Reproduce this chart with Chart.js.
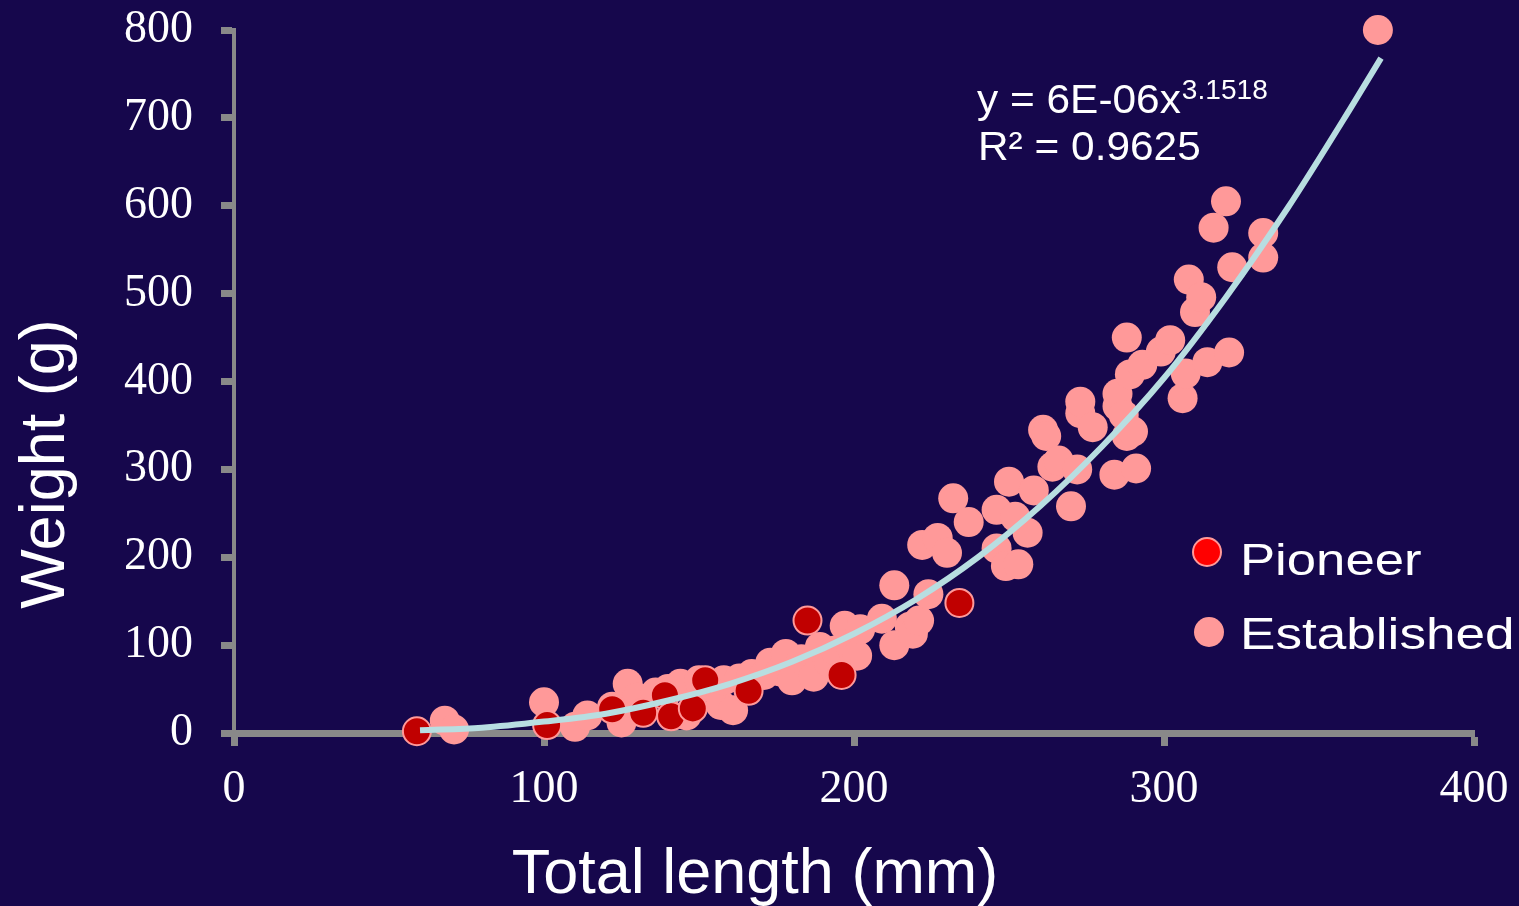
<!DOCTYPE html>
<html>
<head>
<meta charset="utf-8">
<script src="https://cdn.jsdelivr.net/npm/chart.js@4.4.1/dist/chart.umd.min.js"></script>
<style>
  html, body { margin: 0; padding: 0; background: #16074c; }
  #wrap { width: 1519px; height: 906px; position: relative; }
</style>
</head>
<body>
<div id="wrap"><canvas id="lengthWeight"></canvas></div>
<script>
// data (length in mm, weight in g)
const pioneerLength = [59, 101, 122, 132, 139, 141, 148, 152, 166, 185, 196, 234];
const pioneerWeight = [2, 9, 27, 23, 43, 19, 28, 60, 48, 128, 66, 148];

const establishedLength = [
  68, 71, 100, 110, 114, 122, 125, 127, 130, 136,
  140, 144, 146, 150, 154, 157, 158, 161, 163, 167,
  171, 173, 176, 178, 180, 183, 187, 189, 192, 194,
  197, 199, 201, 202, 209, 213, 213, 218, 219, 221,
  222, 224, 227, 230, 232, 237, 246, 246, 249, 250,
  252, 253, 256, 258, 261, 262, 264, 266, 270, 272,
  273, 273, 277, 284, 285, 285, 287, 288, 288, 289,
  290, 291, 293, 299, 302, 306, 307, 308, 310, 312,
  314, 316, 320, 321, 322, 332, 332, 369
];
const establishedWeight = [
  14, 4, 35, 7, 20, 30, 12, 56, 40, 46,
  50, 56, 20, 60, 52, 32, 60, 26, 62, 67,
  66, 80, 70, 90, 60, 84, 64, 98, 80, 94,
  122, 98, 88, 118, 130, 100, 168, 121, 113, 128,
  214, 158, 222, 205, 267, 240, 254, 210, 190, 286,
  246, 192, 228, 276, 345, 338, 303, 310, 258, 300,
  364, 377, 348, 294, 372, 386, 362, 338, 450, 408,
  343, 301, 419, 434, 447, 381, 409, 516, 479, 496,
  422, 575, 605, 433, 530, 569, 541, 800
];

// power trendline as drawn on the picture
const trendLength = [60, 80, 100, 120, 140, 160, 180, 200, 220, 240, 260, 280, 300, 320, 340, 360, 370];
const trendWeight = [3, 6, 13, 22, 37, 56, 81, 113, 152, 200, 258, 326, 404, 496, 598, 710, 768];

const xTicks = [0, 100, 200, 300, 400];
const yTicks = [0, 100, 200, 300, 400, 500, 600, 700, 800];

const xTitle = 'Total length (mm)';
const yTitle = 'Weight (g)';
const eqMain = 'y = 6E-06x';
const eqPower = '3.1518';
const eqR2 = 'R² = 0.9625';

const axisGrey = '#898989';
const sans = '"Liberation Sans", Arial, sans-serif';

function toPoints(xs, ys) {
  return xs.map((x, i) => ({ x: x, y: ys[i] }));
}

// Arial text in the original looks a bit wider, so stretch it a little
function wideText(ctx, str, x, y, size, sx) {
  ctx.save();
  ctx.translate(x, y);
  ctx.scale(sx, 1);
  ctx.font = size + 'px ' + sans;
  ctx.textAlign = 'left';
  ctx.textBaseline = 'alphabetic';
  ctx.fillText(str, 0, 0);
  const w = ctx.measureText(str).width * sx;
  ctx.restore();
  return w;
}

const extraText = {
  id: 'extraText',
  afterDraw(chart) {
    const ctx = chart.ctx;
    ctx.save();
    ctx.fillStyle = '#ffffff';

    // axis titles
    ctx.font = '63px ' + sans;
    ctx.textAlign = 'center';
    ctx.textBaseline = 'alphabetic';
    ctx.fillText(xTitle, 755, 893);
    ctx.save();
    ctx.translate(64, 464);
    ctx.rotate(-Math.PI / 2);
    ctx.fillText(yTitle, 0, 0);
    ctx.restore();

    // trendline equation
    const w = wideText(ctx, eqMain, 977, 113, 40, 1.06);
    wideText(ctx, eqPower, 977 + w + 1, 99, 27, 1.04);
    wideText(ctx, eqR2, 978, 160, 40, 1.06);

    // legend
    const ds = chart.data.datasets;
    ctx.beginPath();
    ctx.arc(1207, 552, 14, 0, Math.PI * 2);
    ctx.fillStyle = '#ff0000';
    ctx.fill();
    ctx.lineWidth = 2;
    ctx.strokeStyle = '#ff9999';
    ctx.stroke();
    ctx.beginPath();
    ctx.arc(1209, 632, 15, 0, Math.PI * 2);
    ctx.fillStyle = '#ff9999';
    ctx.fill();
    ctx.fillStyle = '#ffffff';
    wideText(ctx, ds[1].label, 1240, 575, 45, 1.17);
    wideText(ctx, ds[2].label, 1240, 649, 45, 1.18);
    ctx.restore();
  }
};

function makeAxis(min, max, ticks, afterFit) {
  return {
    type: 'linear',
    min: min,
    max: max,
    afterBuildTicks: (scale) => { scale.ticks = ticks.map(v => ({ value: v })); },
    afterFit: (s) => {
      afterFit(s);
      s.paddingTop = 0; s.paddingBottom = 0;
      s.paddingLeft = 0; s.paddingRight = 0;
    },
    ticks: {
      color: '#ffffff',
      font: { family: '"Liberation Serif", "Times New Roman", serif', size: 46 },
      padding: 28
    },
    grid: {
      drawOnChartArea: false,
      drawTicks: true,
      tickLength: 13,
      tickWidth: 7,
      tickColor: axisGrey
    },
    border: { color: axisGrey, width: 4 }
  };
}

const xAxis = makeAxis(0, 400, xTicks, (s) => { s.height = 173; });
xAxis.ticks.padding = 16;
xAxis.border.width = 7;
const yAxis = makeAxis(0, 800, yTicks, (s) => { s.width = 234; });

const ctx = document.getElementById('lengthWeight').getContext('2d');
new Chart(ctx, {
  type: 'scatter',
  data: {
    datasets: [
      {
        type: 'line',
        label: 'Power trend',
        data: toPoints(trendLength, trendWeight),
        borderColor: '#b8dee1',
        borderWidth: 6,
        pointRadius: 0,
        cubicInterpolationMode: 'monotone',
        fill: false,
        order: 0,
        clip: false
      },
      {
        label: 'Pioneer',
        data: toPoints(pioneerLength, pioneerWeight),
        backgroundColor: '#c00000',
        borderColor: '#ff9999',
        borderWidth: 2,
        pointRadius: 14,
        order: 1,
        clip: false
      },
      {
        label: 'Established',
        data: toPoints(establishedLength, establishedWeight),
        backgroundColor: '#ff9999',
        borderColor: '#ff9999',
        borderWidth: 0,
        pointRadius: 15,
        order: 2,
        clip: false
      }
    ]
  },
  options: {
    responsive: true,
    maintainAspectRatio: false,
    animation: false,
    events: [],
    layout: { padding: { top: 30, right: 45, left: 0, bottom: 0 } },
    scales: { x: xAxis, y: yAxis },
    plugins: {
      legend: { display: false },
      tooltip: { enabled: false }
    }
  },
  plugins: [extraText]
});
</script>
</body>
</html>
